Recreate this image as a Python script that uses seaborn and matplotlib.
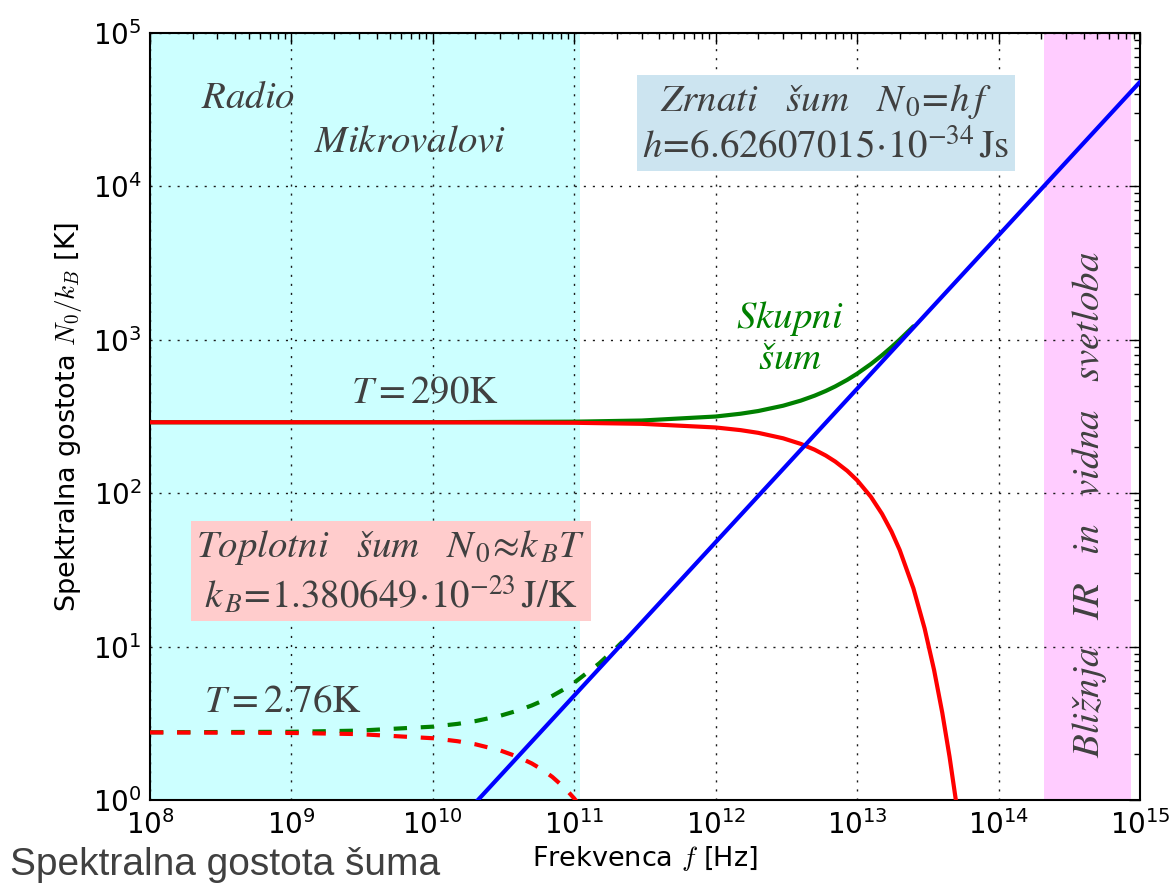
import matplotlib
matplotlib.use("Agg")
import matplotlib.pyplot as plt
import seaborn as sns
import numpy as np

# ---- data (frequency in Hz, N0/kB in K) ----
freq_t290 = [1e8, 1e9, 1e10, 1e11, 3e11, 1e12, 1.5e12, 2e12, 3e12, 4e12, 5e12, 6e12,
             7e12, 8.5e12, 1e13, 1.25e13, 1.5e13, 1.75e13, 2e13, 2.5e13, 3e13, 3.5e13,
             4e13, 4.5e13, 5e13, 5.5e13, 6e13]
thermal_t290 = [290.0, 289.98, 289.76, 287.8, 283.3, 268.2, 257.7, 247.4, 227.9, 209.5,
                192.2, 176.0, 160.8, 140.0, 121.4, 94.8, 73.3, 56.2, 42.6, 23.97, 13.13,
                7.03, 3.699, 1.918, 0.983, 0.499, 0.2512]

freq_total_t290 = [1e8, 1e9, 1e10, 1e11, 3e11, 1e12, 1.5e12, 2e12, 3e12, 4e12, 5e12, 6e12,
                   7e12, 8.5e12, 1e13, 1.25e13, 1.5e13, 1.75e13, 2e13, 2.5e13]
total_t290 = [290.0, 290.03, 290.24, 292.6, 297.7, 316.2, 329.7, 343.4, 371.9, 401.5,
              432.2, 463.9, 496.7, 547.9, 601.3, 694.7, 793.2, 896.0, 1002.4, 1223.8]

freq_t276 = [1e8, 1e9, 3e9, 1e10, 1.5e10, 2e10, 3e10, 4e10, 5e10, 6e10, 7e10, 8.5e10,
             1e11, 1.2e11]
thermal_t276 = [2.7576, 2.736, 2.689, 2.527, 2.4157, 2.308, 2.1027, 1.9102, 1.732,
                1.5662, 1.413, 1.2054, 1.0232, 0.816]

freq_total_t276 = [1e8, 1e9, 3e9, 1e10, 1.5e10, 2e10, 3e10, 4e10, 5e10, 6e10, 7e10,
                   8.5e10, 1e11, 1.5e11, 2e11, 2.2e11]
total_t276 = [2.7624, 2.784, 2.833, 3.007, 3.136, 3.268, 3.543, 3.830, 4.132, 4.445,
              4.773, 5.284, 5.823, 7.77, 9.906, 10.80]

freq_quantum = [1e8, 1e15]
quantum = [0.004799, 47990.0]

radio_band = (1e8, 1.1e11)
optical_band = (2.1e14, 8.6e14)

# ---- style ----
sns.set_theme(style="white")
plt.rcParams["font.family"] = ["DejaVu Sans"]
plt.rcParams["mathtext.fontset"] = "cm"
plt.rcParams["lines.scale_dashes"] = True

fig = plt.figure(figsize=(11.75, 8.86), dpi=100)
ax = fig.add_axes([150 / 1175, 1 - 800 / 886, 990 / 1175, 767 / 886])
ax.set_xscale("log")
ax.set_yscale("log")

ax.axvspan(*radio_band, color="#ccffff", zorder=0.5, lw=0)
ax.axvspan(*optical_band, color="#ffccff", zorder=0.5, lw=0)

dash = (0, (3.2, 3.3))
sns.lineplot(x=freq_total_t290, y=total_t290, color="green", lw=3, ax=ax, legend=False, zorder=3)
sns.lineplot(x=freq_total_t276, y=total_t276, color="green", lw=3, linestyle=dash, ax=ax,
             legend=False, zorder=3)
sns.lineplot(x=freq_t290, y=thermal_t290, color="red", lw=3, ax=ax, legend=False, zorder=4)
sns.lineplot(x=freq_t276, y=thermal_t276, color="red", lw=3, linestyle=dash, ax=ax,
             legend=False, zorder=4)
sns.lineplot(x=freq_quantum, y=quantum, color="blue", lw=3, ax=ax, legend=False, zorder=5)

ax.set_xlim(1e8, 1e15)
ax.set_ylim(1, 1e5)

ax.grid(True, which="major", color="k", linestyle=(0, (1.5, 5)), lw=1)
ax.set_axisbelow("line")
for s in ax.spines.values():
    s.set_color("black")
    s.set_linewidth(1.5)

ax.xaxis.set_major_locator(matplotlib.ticker.LogLocator(base=10, numticks=20))
ax.xaxis.set_minor_locator(matplotlib.ticker.LogLocator(base=10, subs=np.arange(2, 10), numticks=20))
ax.yaxis.set_major_locator(matplotlib.ticker.LogLocator(base=10, numticks=20))
ax.yaxis.set_minor_locator(matplotlib.ticker.LogLocator(base=10, subs=np.arange(2, 10), numticks=20))
ax.tick_params(which="both", direction="in", top=True, right=True, color="black")
ax.tick_params(which="major", length=8, width=1, labelsize=20, labelcolor="black")
ax.tick_params(which="minor", length=4, width=1)
ax.tick_params(axis="x", which="major", pad=7)
ax.tick_params(axis="y", which="major", pad=6)

ax.set_xlabel(r"Frekvenca $f$ [Hz]", fontsize=19.5, color="black", labelpad=3)
ax.set_ylabel(r"Spektralna gostota $N_0/k_B$ [K]", fontsize=19.5, color="black", labelpad=6)

txt = "#404040"
common = dict(transform=ax.transAxes, ha="center", va="center", math_fontfamily="stix",
              color=txt, fontsize=28)

ax.text(0.099, 0.916, r"$Radio$", **common)
ax.text(0.263, 0.860, r"$Mikrovalovi$", **common)
ax.text(0.6828, 0.8814,
        "$Zrnati\\ \\ \\ šum\\ \\ \\ N_{\\,0}\\!=\\!h\\,f$\n$h\\!=\\!6.62607015\\!\\cdot\\!10^{-34}\\,\\mathrm{Js}$",
        multialignment="center", linespacing=1.2, zorder=6,
        bbox=dict(facecolor="#cce4f0", edgecolor="none", pad=4), **common)
ax.text(0.2434, 0.2973,
        "$Toplotni\\ \\ \\ šum\\ \\ \\ N_{\\,0}\\!\\approx\\!k_{\\,B} T$\n$k_{\\,B}\\!=\\!1.380649\\!\\cdot\\!10^{-23}\\,\\mathrm{J/K}$",
        multialignment="center", linespacing=1.2, zorder=6,
        bbox=dict(facecolor="#ffcccc", edgecolor="none", pad=4), **common)
ax.text(0.2778, 0.532, r"$T=290\mathrm{K}$", **common)
ax.text(0.134, 0.130, r"$T=2.76\mathrm{K}$", **common)
ax.text(0.6465, 0.6023, "$Skupni$\n$šum$", multialignment="center", linespacing=1.05,
        **{**common, "color": "green"})
ax.text(0.9485, 0.3846, "$Bližnja\\ \\ \\ IR\\ \\ \\ in\\ \\ \\ vidna\\ \\ \\ svetloba$",
        rotation=90, **common)

fig.text(10 / 1175, 11 / 886, "Spektralna gostota šuma", fontsize=28, color="#404040",
         family="Liberation Sans", ha="left", va="baseline")

fig.savefig("out.png", dpi=100)
